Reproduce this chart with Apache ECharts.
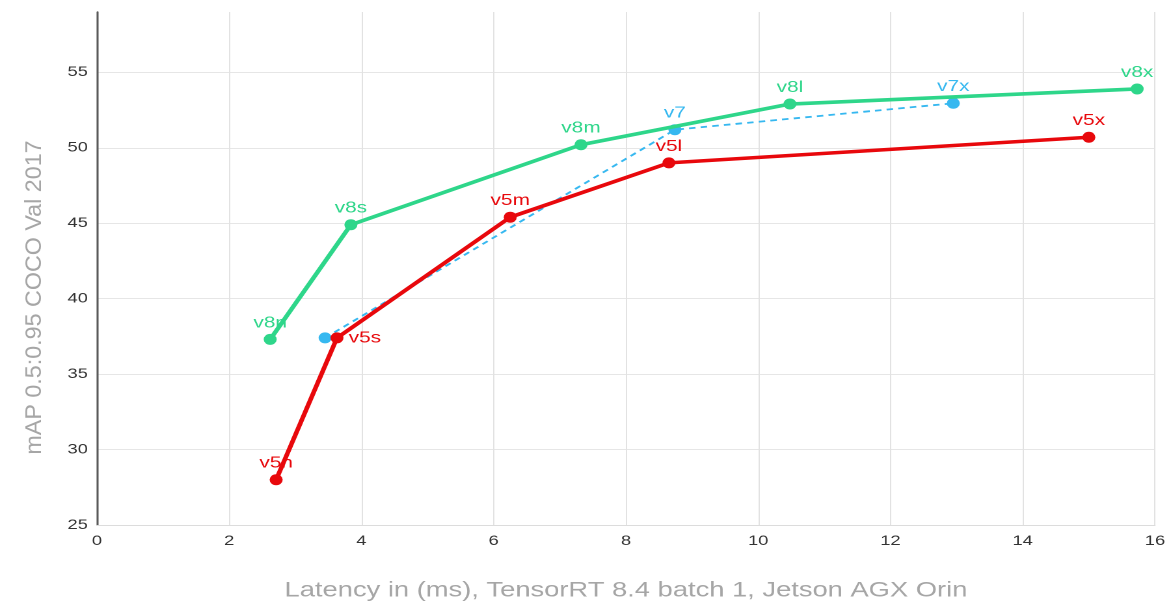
<!DOCTYPE html>
<html>
<head>
<meta charset="utf-8">
<script src="https://cdn.jsdelivr.net/npm/echarts@6/dist/echarts.min.js"></script>
<style>
html,body{margin:0;padding:0;background:#fff;overflow:hidden;}
#wrap{width:1171px;height:605px;overflow:hidden;}
#chart{width:900px;height:605px;transform:scaleX(1.3011);transform-origin:0 0;}
</style>
</head>
<body>
<div id="wrap"><div id="chart"></div></div>
<script>
// Data
const v8Names = ['v8n', 'v8s', 'v8m', 'v8l', 'v8x'];
const v8Latency = [2.62, 3.84, 7.32, 10.48, 15.73];
const v8Map = [37.3, 44.9, 50.2, 52.9, 53.9];

const v5Names = ['v5n', 'v5s', 'v5m', 'v5l', 'v5x'];
const v5Latency = [2.71, 3.63, 6.25, 8.65, 15.0];
const v5Map = [28.0, 37.4, 45.4, 49.0, 50.7];

const v7Names = ['', 'v7', 'v7x'];
const v7Latency = [3.45, 8.74, 12.95];
const v7Map = [37.4, 51.2, 52.95];

const xTicks = [0, 2, 4, 6, 8, 10, 12, 14, 16];
const yTicks = [25, 30, 35, 40, 45, 50, 55];

const xTitle = 'Latency in (ms), TensorRT 8.4 batch 1, Jetson AGX Orin';
const yTitle = 'mAP 0.5:0.95 COCO Val 2017';

const GREEN = '#2ed68a';
const RED = '#e8080c';
const BLUE = '#36b8f0';
const FONT = 'Liberation Sans, Arial, sans-serif';
const SX = 1.3011;

function pts(xs, ys, names) {
  return xs.map((x, i) => ({ value: [x, ys[i]], name: names[i] }));
}

const chart = echarts.init(document.getElementById('chart'), null, { devicePixelRatio: 2 });
chart.setOption({
  backgroundColor: '#fff',
  animation: false,
  grid: { left: 74.5, right: 12.3, top: 12, bottom: 80, containLabel: false, outerBoundsMode: 'none' },
  graphic: [{
    type: 'text',
    x: 26.4, y: 297.5,
    rotation: Math.PI / 2,
    scaleY: 1 / SX,
    style: { text: yTitle, fill: '#a6a6a6', fontSize: 23.3, fontFamily: FONT, align: 'center', verticalAlign: 'middle' }
  }],
  xAxis: {
    type: 'value',
    min: xTicks[0], max: xTicks[xTicks.length - 1], interval: 2,
    name: xTitle,
    nameLocation: 'middle', nameGap: 55,
    nameTextStyle: { color: '#a6a6a6', fontSize: 21, fontFamily: FONT },
    axisLine: { show: true, lineStyle: { color: '#dcdcdc', width: 1 } },
    axisTick: { show: false },
    axisLabel: { color: '#333', fontSize: 14, fontFamily: FONT, margin: 9 },
    splitLine: { show: true, lineStyle: { color: '#e2e2e2', width: 1 } }
  },
  yAxis: {
    type: 'value',
    min: yTicks[0], max: 59, interval: 5,
    axisLine: { show: true, lineStyle: { color: '#5a5a5a', width: 1.5 } },
    axisTick: { show: false },
    axisLabel: { color: '#333', fontSize: 14, fontFamily: FONT, margin: 7, showMaxLabel: false },
    splitLine: { show: true, showMaxLine: false, lineStyle: { color: '#e6e6e6', width: 1 } }
  },
  series: [
    {
      type: 'line', name: 'v7',
      data: pts(v7Latency, v7Map, v7Names),
      lineStyle: { color: BLUE, width: 1.8, type: [5, 4] },
      itemStyle: { color: BLUE },
      symbol: 'circle', symbolSize: [10, 11],
      label: { show: true, position: 'top', distance: 3, formatter: p => p.name, color: BLUE, fontSize: 16, fontFamily: FONT },
      z: 2
    },
    {
      type: 'line', name: 'v8',
      data: pts(v8Latency, v8Map, v8Names),
      lineStyle: { color: GREEN, width: 3.6 },
      itemStyle: { color: GREEN },
      symbol: 'circle', symbolSize: [10, 11],
      label: { show: true, position: 'top', distance: 3, formatter: p => p.name, color: GREEN, fontSize: 16, fontFamily: FONT },
      z: 3
    },
    {
      type: 'line', name: 'v5',
      data: pts(v5Latency, v5Map, v5Names).map((d, i) => i === 1 ? Object.assign(d, { label: { position: 'right', distance: 4 } }) : d),
      lineStyle: { color: RED, width: 3.6 },
      itemStyle: { color: RED },
      symbol: 'circle', symbolSize: [10, 11],
      label: { show: true, position: 'top', distance: 3, formatter: p => p.name, color: RED, fontSize: 16, fontFamily: FONT },
      z: 4
    }
  ]
});
</script>
</body>
</html>
